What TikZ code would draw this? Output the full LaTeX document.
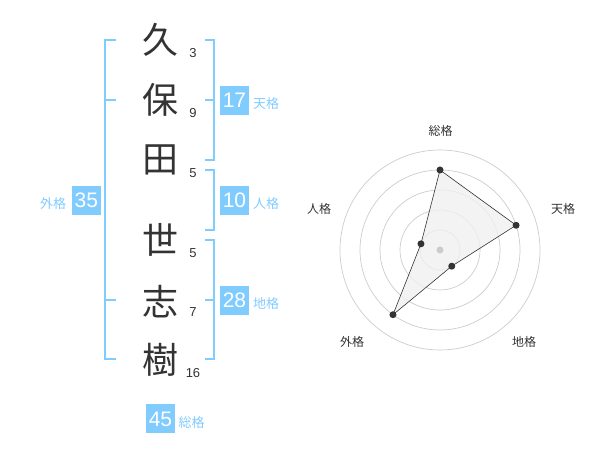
\documentclass[tikz,border=0pt]{standalone}
\usepackage{fontspec}
\setmainfont{Liberation Sans}
\newfontfamily\cjk{Noto Sans CJK JP}
\definecolor{kakublue}{HTML}{80CCFF}
\definecolor{kakutext}{HTML}{333333}
\definecolor{ringgray}{HTML}{CCCCCC}
\definecolor{areagray}{HTML}{F0F0F0}
\tikzset{
  kanji/.style={text=kakutext, inner sep=0pt, font=\cjk\fontsize{36}{36}\selectfont},
  kakusu/.style={text=kakutext, inner sep=0pt, font=\fontsize{13}{13}\selectfont},
  kakubox/.style={fill=kakublue, text=white, minimum size=29pt, inner sep=0pt, font=\fontsize{21}{21}\selectfont},
  kakuname/.style={text=kakublue, inner sep=0pt, font=\cjk\fontsize{13}{13}\selectfont},
  bracket/.style={draw=kakublue, line width=2pt},
  axisname/.style={text=kakutext, inner sep=0pt, font=\cjk\fontsize{12}{12}\selectfont},
  dot/.style={circle, fill=kakutext, minimum size=7pt, inner sep=0pt}
}
\begin{document}
\begin{tikzpicture}[x=1pt, y=1pt]
\useasboundingbox (0,0) rectangle (600,470);
% name
\node[kanji] (c1) at (160,430){久};
\node[kanji] (c2) at (160,370){保};
\node[kanji] (c3) at (160,310){田};
\node[kanji] (c4) at (160,230){世};
\node[kanji] (c5) at (160,168){志};
\node[kanji] (c6) at (160,110){樹};
\node[kakusu] (n1) at (193,417){3};
\node[kakusu] (n2) at (193,357){9};
\node[kakusu] (n3) at (193,297){5};
\node[kakusu] (n4) at (193,217){5};
\node[kakusu] (n5) at (193,158){7};
\node[kakusu] (n6) at (193,97){16};
% brackets
\draw[bracket] (205,430) -- (214,430) -- (214,310) -- (205,310);
\draw[bracket] (205,370) -- (214,370);
\draw[bracket] (205,300) -- (214,300) -- (214,240) -- (205,240);
\draw[bracket] (205,230) -- (214,230) -- (214,111) -- (205,111);
\draw[bracket] (205,170) -- (214,170);
\draw[bracket] (116,430) -- (105,430) -- (105,111) -- (116,111);
\draw[bracket] (105,370) -- (116,370);
\draw[bracket] (105,170) -- (116,170);
% values
\node[kakubox] (ten) at (234.5,369.5){17};
\node[kakuname] at (266,366){天格};
\node[kakubox] (jin) at (234.5,269.5){10};
\node[kakuname] at (266,266){人格};
\node[kakubox] (chi) at (234.5,169.5){28};
\node[kakuname] at (266,166){地格};
\node[kakubox] (gai) at (86.3,269.5){35};
\node[kakuname] at (53,266){外格};
\node[kakubox] (sou) at (160.5,51){45};
\node[kakuname] at (191.5,47){総格};
% radar
\begin{scope}[shift={(440,220)}]
\draw[ringgray, line width=0.7pt] (0,0) circle (20) (0,0) circle (40) (0,0) circle (60) (0,0) circle (80) (0,0) circle (100);
\coordinate (rsou) at (90:80);
\coordinate (rten) at (18:80);
\coordinate (rchi) at (-54:20);
\coordinate (rgai) at (234:80);
\coordinate (rjin) at (162:20);
\filldraw[fill=areagray, draw=kakutext, line width=0.6pt, fill opacity=0.8] (rsou) -- (rten) -- (rchi) -- (rgai) -- (rjin) -- cycle;
\node[circle, fill=ringgray, minimum size=7pt, inner sep=0pt] (rc) at (0,0){};
\node[dot] (psou) at (rsou){};
\node[dot] (pten) at (rten){};
\node[dot] (pchi) at (rchi){};
\node[dot] (pgai) at (rgai){};
\node[dot] (pjin) at (rjin){};
\node[axisname] (lsou) at (0.7,119.3){総格};
\node[axisname] (lten) at (123,41){天格};
\node[axisname] (lchi) at (84,-92){地格};
\node[axisname] (lgai) at (-88,-92){外格};
\node[axisname] (ljin) at (-121,41){人格};
\end{scope}
\end{tikzpicture}
\end{document}
